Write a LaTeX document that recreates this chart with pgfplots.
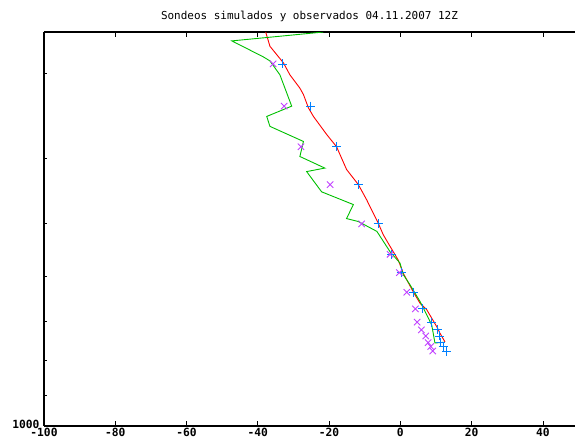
\documentclass[border=0pt]{standalone}
\usepackage{fontspec}
\setmonofont{DejaVu Sans Mono}
\usepackage{pgfplots}
\pgfplotsset{compat=1.18}
\usepackage{pgfplotstable}

\definecolor{gpred}{HTML}{FF0000}
\definecolor{gpgreen}{HTML}{00C000}
\definecolor{gpblue}{HTML}{0080FF}
\definecolor{gpmagenta}{HTML}{C040FF}

% simulated temperature (T, p)
\pgfplotstableread{
T p
-37.8 260
-36.6 273
-32.8 289
-31.0 301
-28.2 315
-27.2 322
-25.8 337
-24.4 347
-20.7 369
-17.9 385
-15.1 416
-11.8 438
-9.5 461
-6.2 500
-4.8 520
-2.9 541
-0.6 567
0.8 593
3.6 632
5.5 657
7.4 672
10.2 712
11.1 728
12.5 750
}\simtemp

% simulated dew point (Td, p)
\pgfplotstableread{
Td p
-21.6 260
-47.3 268
-38.5 283
-36.6 287
-33.8 301
-30.5 335
-37.5 347
-36.6 359
-27.2 378
-28.2 398
-21.2 414
-26.3 419
-22.1 449
-13.2 469
-15.1 492
-11.8 497
-6.6 514
-2.9 551
-0.1 573
0.8 596
2.7 617
5.5 653
8.8 708
9.7 753
12.5 751
}\simdew

% observed sounding
\pgfplotstableread{
p T Td
290 -33.0 -35.7
335 -25.1 -32.6
385 -17.9 -27.9
438 -11.8 -19.7
501 -6.2 -10.9
556 -2.4 -2.9
592 0.2 -0.3
633 3.6 1.8
670 6.2 4.2
701 8.8 4.7
720 10.5 5.9
735 11.0 7.1
752 11.2 7.8
762 12.0 8.5
774 13.0 9.1
}\obs

\begin{document}
\begin{tikzpicture}
\begin{axis}[
    name=main,
    at={(0,0)}, anchor=south west,
    scale only axis,
    width=531bp, height=394bp,
    axis x line=box, axis y line=left,
    axis line style={-, line width=1.2bp, black},
    xmin=-100, xmax=49,
    ymode=log, y dir=reverse,
    ymin=260, ymax=1000,
    xtick={-100,-80,...,40},
    ytick={1000}, yticklabels={1000},
    minor ytick={300,400,500,600,700,800,900},
    ytick pos=left,
    tick align=inside,
    major tick length=5bp, minor tick length=3bp,
    tick style={black, line width=0.8bp},
    /pgf/number format/assume math mode=true,
    ticklabel style={font=\ttfamily\bfseries\fontsize{11.3}{13}\selectfont},
    yticklabel style={anchor=south east, xshift=-1bp, yshift=-6bp},
    xticklabel style={yshift=1.5bp},
    title={Sondeos simulados y observados 04.11.2007 12Z},
    title style={font=\ttfamily\fontsize{11}{12}\selectfont, yshift=1bp, at={(0.5,1)}},
    clip=true,
]
\addplot[gpred, line width=0.9bp, no marks] table[x=T, y=p] {\simtemp};
\addplot[gpgreen, line width=0.9bp, no marks] table[x=Td, y=p] {\simdew};
\addplot[gpblue, only marks, mark=+, mark size=4.5bp, mark options={line width=0.9bp}] table[x=T, y=p] {\obs};
\addplot[gpmagenta, only marks, mark=x, mark size=4.5bp, mark options={line width=0.9bp}] table[x=Td, y=p] {\obs};
\end{axis}
\pgfresetboundingbox
\path[use as bounding box] (main.south west) ++(-44bp,-19bp) rectangle ++(575bp,445bp);
\end{tikzpicture}
\end{document}
